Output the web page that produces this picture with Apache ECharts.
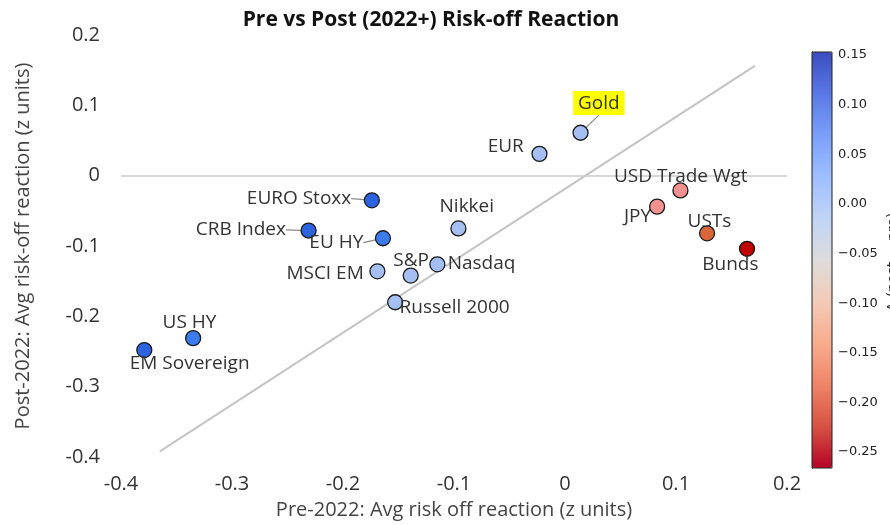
<!DOCTYPE html>
<html>
<head>
<meta charset="utf-8">
<script src="https://cdn.jsdelivr.net/npm/echarts@6/dist/echarts.min.js"></script>
<style>
  html, body { margin: 0; padding: 0; background: #fff; }
  #figure0 { width: 890px; height: 525px; }
</style>
</head>
<body>
<div id="figure0"></div>
<script>
// values
var names = ['Gold', 'EUR', 'EURO Stoxx', 'CRB Index', 'EU HY', 'Nikkei', 'MSCI EM', 'S&P',
             'Nasdaq', 'Russell 2000', 'US HY', 'EM Sovereign', 'USD Trade Wgt', 'JPY', 'USTs', 'Bunds'];
var pre  = [0.014, -0.023, -0.174, -0.231, -0.164, -0.096, -0.169, -0.139,
            -0.115, -0.153, -0.335, -0.379, 0.104, 0.083, 0.128, 0.164];
var post = [0.061, 0.031, -0.035, -0.078, -0.089, -0.075, -0.136, -0.142,
            -0.126, -0.180, -0.231, -0.248, -0.021, -0.044, -0.082, -0.104];
var fitX = [-0.365, 0.171];
var fitY = [-0.392, 0.156];
var xTicks = [-0.4, -0.3, -0.2, -0.1, 0, 0.1, 0.2];
var cbTicks = [0.15, 0.10, 0.05, 0.00, -0.05, -0.10, -0.15, -0.20, -0.25];
var cbMin = -0.266, cbMax = 0.153;

// label placement: anchor offset from point centre, text alignment, leader line
var labelPos = {
    'Gold': [19, -29, 'center', true],
    'EUR': [-15, -7, 'right'],
    'EURO Stoxx': [-20, -1, 'right', true],
    'CRB Index': [-22, 0, 'right', true],
    'EU HY': [-19, 5, 'right', true],
    'Nikkei': [9, -21, 'center'],
    'MSCI EM': [-13, 3, 'right'],
    'S&P': [1, -14, 'center'],
    'Nasdaq': [11, 0, 'left'],
    'Russell 2000': [5, 6, 'left'],
    'US HY': [-3, -15, 'center'],
    'EM Sovereign': [46, 14, 'center'],
    'USD Trade Wgt': [1, -13, 'center'],
    'JPY': [-19, 11, 'center'],
    'USTs': [3, -11, 'center'],
    'Bunds': [-16, 16, 'center']
};

var font = '"Open Sans", "Noto Sans", sans-serif';
var sym = 15;

var points = names.map(function (n, i) {
    var p = labelPos[n];
    var item = {
        name: n,
        value: [pre[i], post[i], post[i] - pre[i]],
        label: {
            position: [sym / 2 + p[0], sym / 2 + p[1]],
            align: p[2],
            verticalAlign: 'middle'
        }
    };
    if (n === 'Gold') {
        item.label.backgroundColor = '#ffff00';
        item.label.padding = [3, 5, 2, 5];
    }
    if (p[3]) {
        item.labelLine = {show: true, lineStyle: {color: '#8a8a8a', width: 1.2}};
    }
    return item;
});

var figure0 = echarts.init(document.getElementById('figure0'));
var option = {
    animation: false,
    backgroundColor: '#fff',
    title: {
        text: 'Pre vs Post (2022+) Risk-off Reaction',
        left: 426,
        top: 5,
        textAlign: 'center',
        textStyle: {fontFamily: font, fontSize: 21, fontWeight: 'bold', color: '#111'}
    },
    grid: [
        {left: 121, right: 103, top: 35, bottom: 67},
        {left: 812, top: 52, width: 20, height: 416, show: true, z: 10,
         borderColor: '#222', borderWidth: 1, backgroundColor: 'transparent'}
    ],
    xAxis: [{
        type: 'value', gridIndex: 0, min: -0.4, max: 0.2, interval: 0.1,
        name: 'Pre-2022: Avg risk off reaction (z units)',
        nameLocation: 'middle', nameGap: 43,
        nameTextStyle: {fontFamily: font, fontSize: 20, color: '#444'},
        axisLine: {show: false}, axisTick: {show: false}, splitLine: {show: false},
        axisLabel: {
            margin: 17, fontFamily: font, fontSize: 20, color: '#333',
            customValues: xTicks,
            formatter: function (v) { return v === 0 ? '0' : v.toFixed(1); }
        }
    }, {
        type: 'value', gridIndex: 1, show: false, min: 0, max: 1
    }],
    yAxis: [{
        type: 'value', gridIndex: 0, min: -0.4, max: 0.2, interval: 0.1,
        name: 'Post-2022: Avg risk-off reaction (z units)',
        nameLocation: 'middle', nameGap: 88,
        nameTextStyle: {fontFamily: font, fontSize: 20, color: '#444'},
        axisLine: {show: false}, axisTick: {show: false}, splitLine: {show: false},
        axisLabel: {
            margin: 21, fontFamily: font, fontSize: 20, color: '#333',
            formatter: function (v) { return v === 0 ? '0' : v.toFixed(1); }
        }
    }, {
        type: 'value', gridIndex: 1, min: cbMin, max: cbMax, position: 'right',
        axisLine: {show: true, lineStyle: {color: '#222', width: 1}},
        axisTick: {show: true, customValues: cbTicks, length: 4, lineStyle: {color: '#222'}},
        splitLine: {show: false},
        axisLabel: {
            customValues: cbTicks, margin: 6,
            fontFamily: '"DejaVu Sans", sans-serif', fontSize: 13, color: '#222',
            formatter: function (v) { return (v < -1e-9 ? '\u2212' : '') + Math.abs(v).toFixed(2); }
        }
    }],
    visualMap: [{
        // colours of the markers
        type: 'piecewise', show: false,
        dimension: 2, seriesIndex: 0,
        pieces: [
            {lt: -0.24, color: '#c00000'},
            {gte: -0.24, lt: -0.17, color: '#d9653b'},
            {gte: -0.17, lt: -0.08, color: '#f39090'},
            {gte: -0.08, lt: 0.065, color: '#a6bff3'},
            {gte: 0.065, lt: 0.12, color: '#3c7beb'},
            {gte: 0.12, color: '#2c63df'}
        ]
    }, {
        // colour bar on the right
        type: 'continuous',
        min: cbMin, max: cbMax,
        dimension: 1, seriesIndex: 2,
        left: 812, top: 52, itemWidth: 20, itemHeight: 416,
        padding: 0, calculable: false, hoverLink: false, text: null,
        showLabel: false,
        inRange: {
            color: ['#b40426', '#d65244', '#ee8468', '#f7ac8e', '#f2cbb7', '#dddcdc',
                    '#c0d4f5', '#9ebeff', '#7b9ff9', '#5a78e4', '#3b4cc0']
        }
    }],
    graphic: [{
        type: 'text',
        x: 893, y: 262, rotation: Math.PI / 2,
        style: {text: '\u0394 (post \u2212 pre)', fontFamily: '"DejaVu Sans", sans-serif',
                fontSize: 14, fill: '#222', align: 'center', verticalAlign: 'middle'}
    }],
    series: [{
        type: 'scatter',
        xAxisIndex: 0, yAxisIndex: 0,
        symbolSize: sym,
        z: 5,
        data: points,
        itemStyle: {borderColor: '#1a1a1a', borderWidth: 1.3, opacity: 1},
        label: {
            show: true,
            formatter: '{b}',
            fontFamily: font, fontSize: 19, color: '#333'
        },
        emphasis: {disabled: true}
    }, {
        type: 'line',
        xAxisIndex: 0, yAxisIndex: 0,
        data: fitX.map(function (x, i) { return [x, fitY[i]]; }),
        symbol: 'none',
        lineStyle: {color: '#c4c4c4', width: 2},
        z: 2,
        silent: true,
        markLine: {
            silent: true, symbol: 'none', label: {show: false},
            lineStyle: {color: '#c8c8c8', width: 1.5, type: 'solid'},
            data: [
                [{coord: [-0.4, 0]}, {coord: [0.2, 0]}],
                [{coord: [0, 0.182]}, {coord: [0, -0.404]}]
            ]
        }
    }, {
        type: 'scatter',
        xAxisIndex: 1, yAxisIndex: 1,
        data: [],
        silent: true
    }]
};
figure0.setOption(option);
</script>
</body>
</html>
